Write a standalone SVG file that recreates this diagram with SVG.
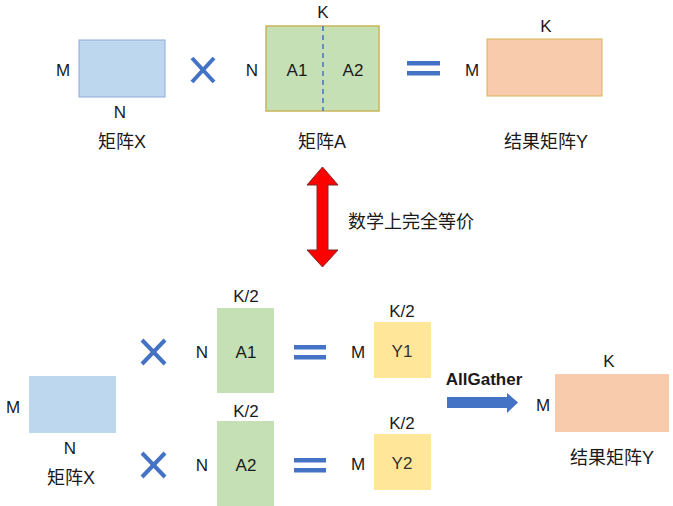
<svg xmlns="http://www.w3.org/2000/svg" width="673" height="506" viewBox="0 0 673 506">
<style>
text{font-family:"Liberation Sans","Noto Sans CJK SC",Arial,sans-serif;fill:#1a1a1a;dominant-baseline:central;text-anchor:middle}
.l{font-size:17px}
.c{font-size:18px}
.b{font-size:17px;font-weight:bold}
.bx{fill:#BDD7EE}
.gr{fill:#C5E0B4}
.ye{fill:#FFE699}
.or{fill:#F8CBAD}
.x{stroke:#4472C4;stroke-width:4;stroke-linecap:butt}
.eq{fill:#4472C4}
</style>
<rect width="673" height="506" fill="#fff"/>
<g id="top-x">
<rect class="bx" x="79" y="40" width="86" height="57" stroke="#8FAADC" stroke-width="1"/>
<text class="l" x="63" y="70">M</text>
<text class="l" x="120" y="112">N</text>
<text class="c" x="122" y="142">矩阵X</text>
</g>
<g id="top-times">
<line class="x" x1="192" y1="58" x2="214" y2="82"/>
<line class="x" x1="214" y1="58" x2="192" y2="82"/>
</g>
<g id="top-a">
<rect class="gr" x="266" y="26" width="113" height="85" stroke="#C9B458" stroke-width="1.5"/>
<line x1="323" y1="26" x2="323" y2="111" stroke="#4472C4" stroke-width="1.5" stroke-dasharray="5,4"/>
<text class="l" x="323" y="12">K</text>
<text class="l" x="252" y="70">N</text>
<text class="l" x="297" y="70">A1</text>
<text class="l" x="353" y="70">A2</text>
<text class="c" x="322" y="142">矩阵A</text>
</g>
<g id="top-eq">
<rect class="eq" x="407" y="61" width="33" height="4.5"/>
<rect class="eq" x="407" y="71" width="33" height="4.5"/>
</g>
<g id="top-y">
<rect class="or" x="487" y="39" width="115" height="57" stroke="#D6B656" stroke-width="1"/>
<text class="l" x="546" y="26">K</text>
<text class="l" x="472" y="70">M</text>
<text class="c" x="546" y="142">结果矩阵Y</text>
</g>
<g id="equiv">
<polygon points="322.5,167 338,185 328,185 328,250 338,250 322.5,267 307,250 317,250 317,185 307,185" fill="#FF0000" stroke="#7a2a2a" stroke-width="1"/>
<text class="c" x="348" y="222" style="text-anchor:start">数学上完全等价</text>
</g>
<g id="bot-x">
<rect class="bx" x="29" y="376" width="87" height="57"/>
<text class="l" x="13" y="407">M</text>
<text class="l" x="70" y="448">N</text>
<text class="c" x="71" y="478">矩阵X</text>
</g>
<g id="bot-times1">
<line class="x" x1="142" y1="340" x2="165" y2="364" stroke-width="3.5"/>
<line class="x" x1="165" y1="340" x2="142" y2="364" stroke-width="3.5"/>
</g>
<g id="bot-times2">
<line class="x" x1="142" y1="453" x2="165" y2="477" stroke-width="3.5"/>
<line class="x" x1="165" y1="453" x2="142" y2="477" stroke-width="3.5"/>
</g>
<g id="bot-a1">
<rect class="gr" x="217" y="308" width="57" height="85"/>
<text class="l" x="246" y="296">K/2</text>
<text class="l" x="202" y="352">N</text>
<text class="l" x="246" y="352">A1</text>
</g>
<g id="bot-a2">
<rect class="gr" x="217" y="421" width="57" height="85"/>
<text class="l" x="246" y="411">K/2</text>
<text class="l" x="202" y="465">N</text>
<text class="l" x="246" y="465">A2</text>
</g>
<g id="bot-eq1">
<rect class="eq" x="294" y="345" width="32" height="4.5"/>
<rect class="eq" x="294" y="355" width="32" height="4.5"/>
</g>
<g id="bot-eq2">
<rect class="eq" x="294" y="458" width="32" height="4.5"/>
<rect class="eq" x="294" y="468" width="32" height="4.5"/>
</g>
<g id="bot-y1">
<rect class="ye" x="374" y="322" width="57" height="56"/>
<text class="l" x="402" y="311">K/2</text>
<text class="l" x="358" y="352">M</text>
<text class="l" x="402" y="351" style="fill:#333">Y1</text>
</g>
<g id="bot-y2">
<rect class="ye" x="374" y="434" width="57" height="56"/>
<text class="l" x="402" y="423">K/2</text>
<text class="l" x="358" y="464">M</text>
<text class="l" x="402" y="463" style="fill:#333">Y2</text>
</g>
<g id="connectors">
<polygon points="447,397 507,397 507,393 518,402.5 507,413 507,408 447,408" fill="#4472C4"/>
<text class="b" x="484" y="379">AllGather</text>
</g>
<g id="bot-y">
<rect class="or" x="555" y="374" width="114" height="58"/>
<text class="l" x="609" y="361">K</text>
<text class="l" x="543" y="405">M</text>
<text class="c" x="612" y="458">结果矩阵Y</text>
</g>
</svg>
